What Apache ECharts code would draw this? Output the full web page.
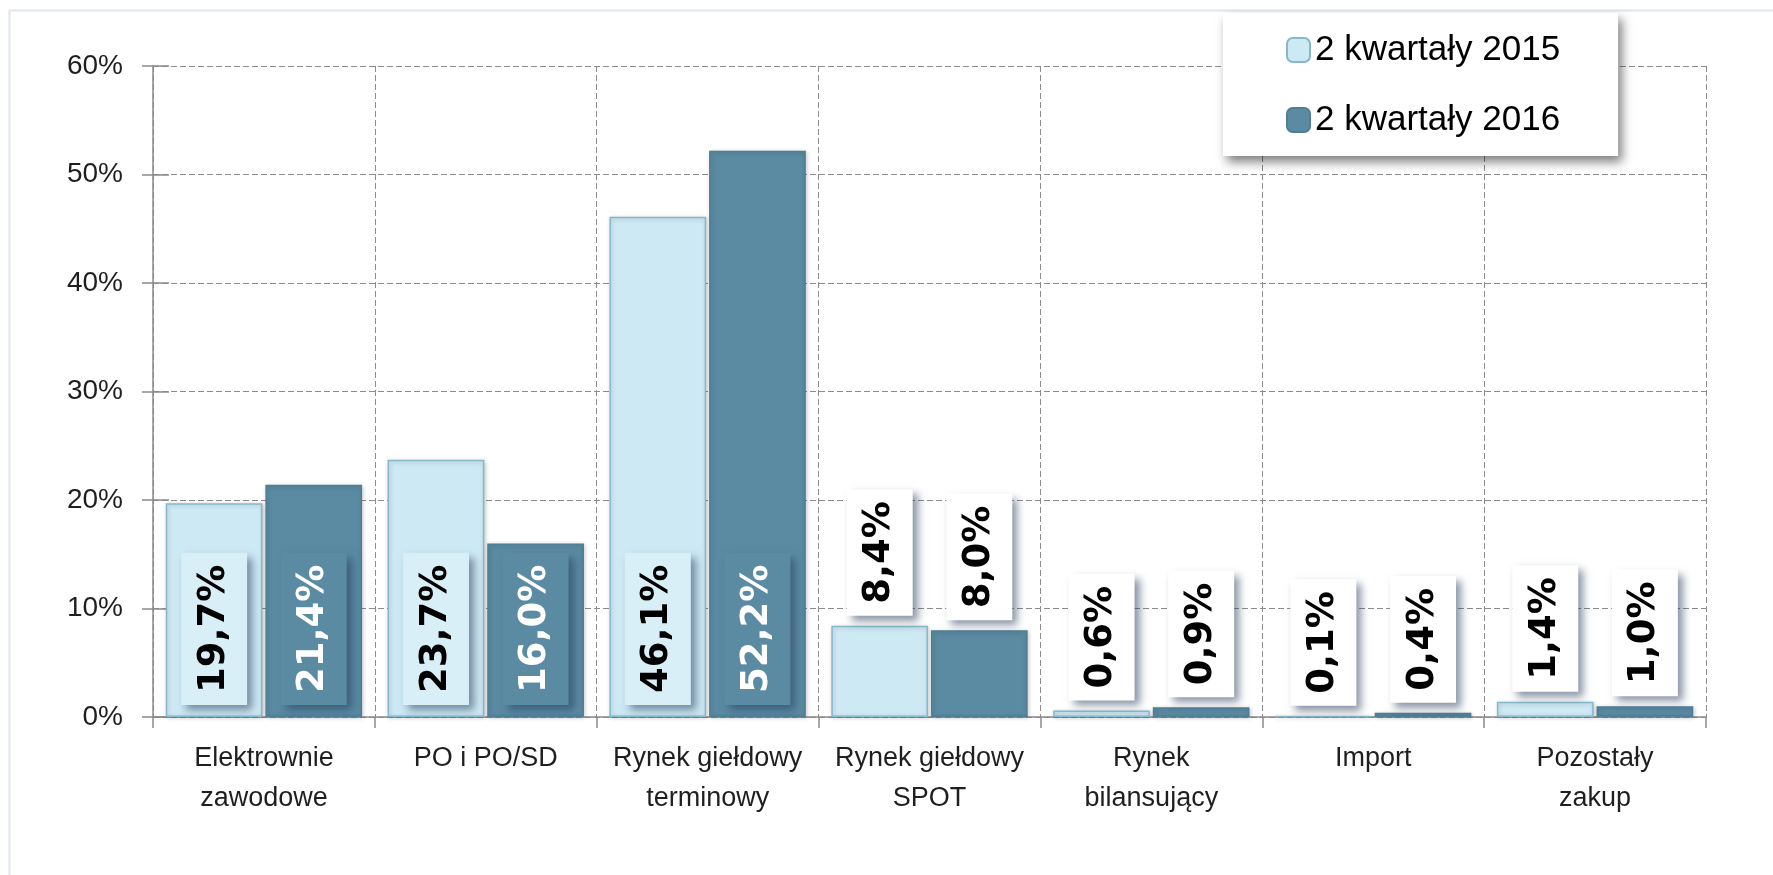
<!DOCTYPE html>
<html>
<head>
<meta charset="utf-8">
<script src="https://cdn.jsdelivr.net/npm/echarts@6/dist/echarts.min.js"></script>
<style>
  html, body { margin: 0; padding: 0; background: #fff; }
  #chart { width: 1773px; height: 875px; }
</style>
</head>
<body>
<div id="chart"></div>
<script>
// data
const categories = [
  'Elektrownie\nzawodowe',
  'PO i PO/SD',
  'Rynek giełdowy\nterminowy',
  'Rynek giełdowy\nSPOT',
  'Rynek\nbilansujący',
  'Import',
  'Pozostały\nzakup'
];
const seriesNames = ['2 kwartały 2015', '2 kwartały 2016'];
const values2015 = [19.7, 23.7, 46.1, 8.4, 0.6, 0.1, 1.4];
const values2016 = [21.4, 16.0, 52.2, 8.0, 0.9, 0.4, 1.0];
const yTicks = { min: 0, max: 60, step: 10 };

const axisFont = '"Liberation Sans", Arial, sans-serif';

function pct(v) {
  return v.toFixed(1).replace('.', ',') + '%';
}

function labelFor(v, dark) {
  const inside = v > 15;
  return {
    show: true,
    position: inside ? 'insideBottom' : 'top',
    distance: inside ? 12 : 10,
    rotate: 90,
    align: 'left',
    verticalAlign: 'middle',
    formatter: p => pct(p.value),
    fontFamily: '"DejaVu Sans", sans-serif',
    fontWeight: 'bold',
    fontSize: 37,
    lineHeight: 38,
    color: inside && dark ? '#ffffff' : '#000000',
    backgroundColor: inside ? (dark ? '#5a8ba3' : '#d9eff8') : '#ffffff',
    padding: [14, 12, 14, 12],
    shadowColor: 'rgba(40,60,90,0.55)',
    shadowBlur: 8,
    shadowOffsetX: 5,
    shadowOffsetY: 5
  };
}

function buildData(vals, dark) {
  return vals.map(v => ({ value: v, label: labelFor(v, dark) }));
}

const chart = echarts.init(document.getElementById('chart'));

const option = {
  animation: false,
  backgroundColor: '#ffffff',
  graphic: [{
    type: 'polyline',
    z: -10,
    shape: { points: [[9.5, 875], [9.5, 10.5], [1773, 10.5]] },
    style: { stroke: '#dfe6ee', lineWidth: 2, fill: null }
  }],
  grid: { left: 153, right: 67, top: 66, bottom: 158 },
  legend: {
    data: seriesNames,
    orient: 'vertical',
    left: 1223,
    top: 13,
    padding: [17, 58, 16, 63],
    itemWidth: 23,
    itemHeight: 24,
    itemGap: 30,
    backgroundColor: '#ffffff',
    shadowColor: 'rgba(0,0,0,0.5)',
    shadowBlur: 10,
    shadowOffsetX: 4,
    shadowOffsetY: 6,
    textStyle: {
      fontFamily: '"Liberation Sans", Arial, sans-serif',
      fontSize: 35,
      lineHeight: 40,
      color: '#000'
    }
  },
  xAxis: {
    type: 'category',
    data: categories,
    axisLine: { lineStyle: { color: '#8a8a8a', width: 1.5 } },
    axisTick: { show: true, length: 11, interval: 0, lineStyle: { color: '#8a8a8a', width: 1.5 } },
    splitLine: { show: true, interval: 0, lineStyle: { color: '#8c8c8c', type: [6, 3], width: 1 } },
    axisLabel: {
      interval: 0,
      margin: 22,
      fontFamily: axisFont,
      fontSize: 27,
      lineHeight: 40,
      color: '#1f1f1f'
    }
  },
  yAxis: [{
    type: 'value',
    min: yTicks.min,
    max: yTicks.max,
    interval: yTicks.step,
    axisLine: { show: true, lineStyle: { color: '#8a8a8a', width: 1.5 } },
    axisTick: { show: true, length: 11, lineStyle: { color: '#8a8a8a', width: 1.5 } },
    splitLine: { show: true, lineStyle: { color: '#8c8c8c', type: [6, 3], width: 1 } },
    axisLabel: {
      formatter: '{value}%',
      margin: 30,
      fontFamily: axisFont,
      fontSize: 28,
      color: '#1f1f1f'
    }
  }, {
    // inner half of the crossing ticks
    type: 'value',
    position: 'left',
    min: yTicks.min,
    max: yTicks.max,
    interval: yTicks.step,
    axisLine: { show: false },
    axisTick: { show: true, inside: true, length: 16, lineStyle: { color: '#8a8a8a', width: 1.5 } },
    splitLine: { show: false },
    axisLabel: { show: false }
  }],
  series: [{
    name: seriesNames[0],
    type: 'bar',
    barGap: '3%',
    barCategoryGap: '11.5%',
    itemStyle: {
      color: '#cde9f4',
      borderColor: '#86b8cc',
      borderWidth: 1.5,
      shadowColor: 'rgba(0,0,0,0.2)',
      shadowBlur: 4,
      shadowOffsetX: 1,
      shadowOffsetY: 1
    },
    data: buildData(values2015, false)
  }, {
    name: seriesNames[1],
    type: 'bar',
    itemStyle: {
      color: '#5a8ba3',
      borderColor: '#4f7e95',
      borderWidth: 1.5,
      shadowColor: 'rgba(0,0,0,0.2)',
      shadowBlur: 4,
      shadowOffsetX: 1,
      shadowOffsetY: 1
    },
    data: buildData(values2016, true)
  }]
};

chart.setOption(option);
</script>
</body>
</html>
